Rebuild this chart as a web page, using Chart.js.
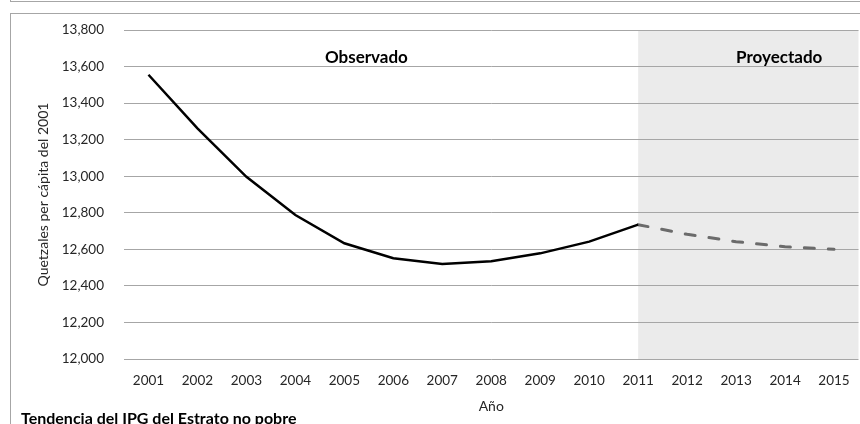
<!DOCTYPE html>
<html>
<head>
<meta charset="utf-8">
<script src="https://cdn.jsdelivr.net/npm/chart.js@4/dist/chart.umd.min.js"></script>
<style>
  html, body { margin: 0; padding: 0; background: #fff; }
  #wrap { position: relative; width: 860px; height: 424px; overflow: hidden; }
  .topbox { position: absolute; left: 10px; top: -20px; width: 900px; height: 20px; border: 1px solid #a6a6a6; }
  .chartbox { position: absolute; left: 10px; top: 13px; width: 900px; height: 500px; border: 1px solid #a6a6a6; }
  #caption { position: absolute; left: 21px; top: 408px; font: bold 16px Lato, sans-serif; color: #000; white-space: nowrap; }
  canvas { position: absolute; left: 0; top: 0; }
</style>
</head>
<body>
<div id="wrap">
  <div class="topbox"></div>
  <div class="chartbox"></div>
  <canvas id="ipgChart" width="860" height="424"></canvas>
  <div id="caption">Tendencia del IPG del Estrato no pobre</div>
</div>
<script>
// IPG del estrato no pobre (quetzales per cápita del 2001)
const years = ['2001', '2002', '2003', '2004', '2005', '2006', '2007', '2008',
  '2009', '2010', '2011', '2012', '2013', '2014', '2015'];
const observed = [13555, 13262, 12997, 12788, 12633, 12551, 12520, 12535,
  12578, 12642, 12735, null, null, null, null];
const projected = [null, null, null, null, null, null, null, null,
  null, null, 12735, 12682, 12642, 12614, 12600];
const projectionStart = '2011';
const periodLabels = [
  { text: 'Observado', x: 4.45, y: 13652 },
  { text: 'Proyectado', x: 12.88, y: 13652 },
];

const FONT = 'Lato, sans-serif';

const shadePlugin = {
  id: 'shade',
  beforeDraw(chart) {
    const { ctx, chartArea, scales } = chart;
    const x0 = scales.x.getPixelForValue(years.indexOf(projectionStart));
    ctx.save();
    ctx.fillStyle = '#ebebeb';
    ctx.fillRect(x0, chartArea.top, chartArea.right - x0, chartArea.bottom - chartArea.top);
    ctx.restore();
  },
  afterDatasetsDraw(chart) {
    const { ctx, scales } = chart;
    ctx.save();
    ctx.font = 'bold 17px ' + FONT;
    ctx.fillStyle = '#000';
    ctx.textAlign = 'center';
    ctx.textBaseline = 'middle';
    periodLabels.forEach((p) => {
      ctx.fillText(p.text, scales.x.getPixelForValue(p.x), scales.y.getPixelForValue(p.y));
    });
    ctx.restore();
  },
};

const ctx = document.getElementById('ipgChart').getContext('2d');
new Chart(ctx, {
  type: 'line',
  data: {
    labels: years,
    datasets: [
      {
        label: 'Observado',
        data: observed,
        borderColor: '#000',
        borderWidth: 2.5,
        pointRadius: 0,
        tension: 0,
        fill: false,
      },
      {
        label: 'Proyectado',
        data: projected,
        borderColor: '#6b6b6b',
        borderWidth: 3,
        borderDash: [10, 14],
        borderCapStyle: 'round',
        pointRadius: 0,
        tension: 0,
        fill: false,
      },
    ],
  },
  options: {
    responsive: false,
    animation: false,
    layout: { padding: { top: 30, right: 1.5, left: 0, bottom: 0 } },
    plugins: {
      legend: { display: false },
      tooltip: { enabled: false },
    },
    scales: {
      x: {
        offset: true,
        grid: { display: false, drawTicks: false },
        border: { display: false },
        ticks: { color: '#262626', font: { family: FONT, size: 13.5 }, padding: 14, maxRotation: 0 },
        title: {
          display: true,
          text: 'Año',
          color: '#262626',
          font: { family: FONT, size: 14 },
          padding: { top: 0, bottom: 9 },
        },
        afterFit(scale) {
          scale.height = 65;
          scale.paddingLeft = 0;
          scale.paddingRight = 0;
        },
      },
      y: {
        min: 12000,
        max: 13800,
        grid: { color: '#a6a6a6', lineWidth: 1, drawTicks: false },
        border: { display: false },
        ticks: {
          stepSize: 200,
          color: '#262626',
          font: { family: FONT, size: 13.5 },
          padding: 20,
          callback: (v) => v.toLocaleString('en-US'),
        },
        title: {
          display: true,
          text: 'Quetzales per cápita del 2001',
          color: '#262626',
          font: { family: FONT, size: 14 },
          padding: { top: 35, bottom: 0 },
        },
        afterFit(scale) { scale.width = 124; },
      },
    },
  },
  plugins: [shadePlugin],
});
</script>
</body>
</html>
